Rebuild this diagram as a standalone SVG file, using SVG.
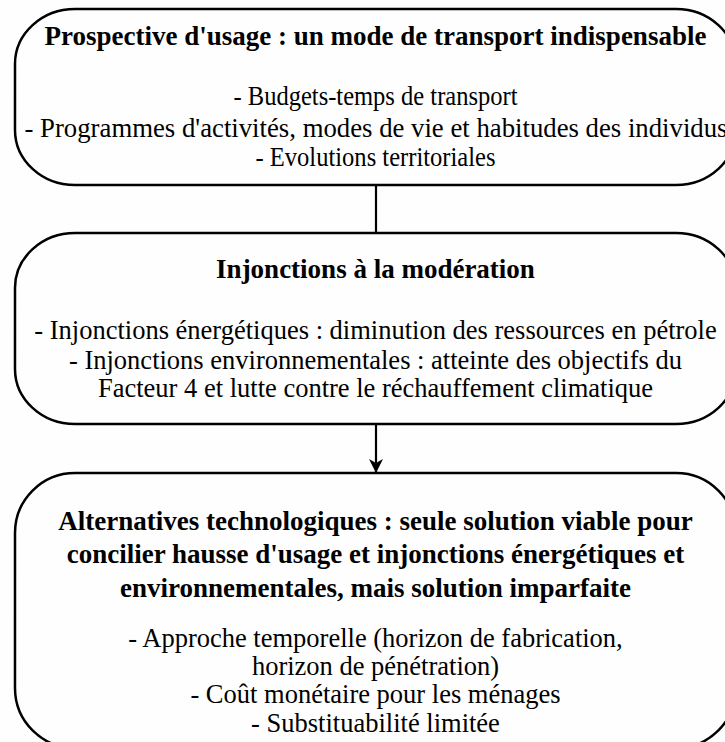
<svg xmlns="http://www.w3.org/2000/svg" width="725" height="742" viewBox="0 0 725 742">
<defs>
<style>
.box{fill:#fefefe;stroke:#000;stroke-width:2.5}
.t{font-family:"Liberation Serif","Times New Roman",serif;font-size:26.5px;fill:#000;text-anchor:middle}
.b{font-weight:bold;font-size:27px}
.conn{stroke:#000;stroke-width:2.2;fill:none}
</style>
<marker id="ah" viewBox="0 0 14 14" refX="13" refY="7" markerWidth="14" markerHeight="14" markerUnits="userSpaceOnUse" orient="auto">
<path d="M0,0 L14,7 L0,14 L4,7 Z" fill="#000"/>
</marker>
</defs>
<rect width="725" height="742" fill="#fefefe"/>
<g id="connectors">
<line class="conn" x1="376" y1="185" x2="376" y2="233"/>
<line class="conn" x1="376" y1="424" x2="376" y2="472" marker-end="url(#ah)"/>
</g>
<g id="node-usage">
<rect class="box" x="15" y="9" width="721" height="176" rx="60" ry="55"/>
<text class="t b" x="375.5" y="45">Prospective d'usage : un mode de transport indispensable</text>
<text class="t" x="375.5" y="105" textLength="284" lengthAdjust="spacingAndGlyphs">- Budgets-temps de transport</text>
<text class="t" x="376" y="137" textLength="703" lengthAdjust="spacingAndGlyphs">- Programmes d'activités, modes de vie et habitudes des individus</text>
<text class="t" x="375.5" y="166" textLength="240" lengthAdjust="spacingAndGlyphs">- Evolutions territoriales</text>
</g>
<g id="node-injonctions">
<rect class="box" x="15" y="233" width="721" height="191" rx="60" ry="55"/>
<text class="t b" x="375.5" y="278">Injonctions à la modération</text>
<text class="t" x="375.5" y="339">- Injonctions énergétiques : diminution des ressources en pétrole</text>
<text class="t" x="375.5" y="369">- Injonctions environnementales : atteinte des objectifs du</text>
<text class="t" x="375.5" y="397">Facteur 4 et lutte contre le réchauffement climatique</text>
</g>
<g id="node-alternatives">
<rect class="box" x="15" y="473" width="721" height="275" rx="60" ry="60"/>
<text class="t b" x="375.5" y="530">Alternatives technologiques : seule solution viable pour</text>
<text class="t b" x="375.5" y="563">concilier hausse d'usage et injonctions énergétiques et</text>
<text class="t b" x="375.5" y="597">environnementales, mais solution imparfaite</text>
<text class="t" x="375.5" y="647">- Approche temporelle (horizon de fabrication,</text>
<text class="t" x="375.5" y="675">horizon de pénétration)</text>
<text class="t" x="375.5" y="703">- Coût monétaire pour les ménages</text>
<text class="t" x="375.5" y="732">- Substituabilité limitée</text>
</g>
</svg>
